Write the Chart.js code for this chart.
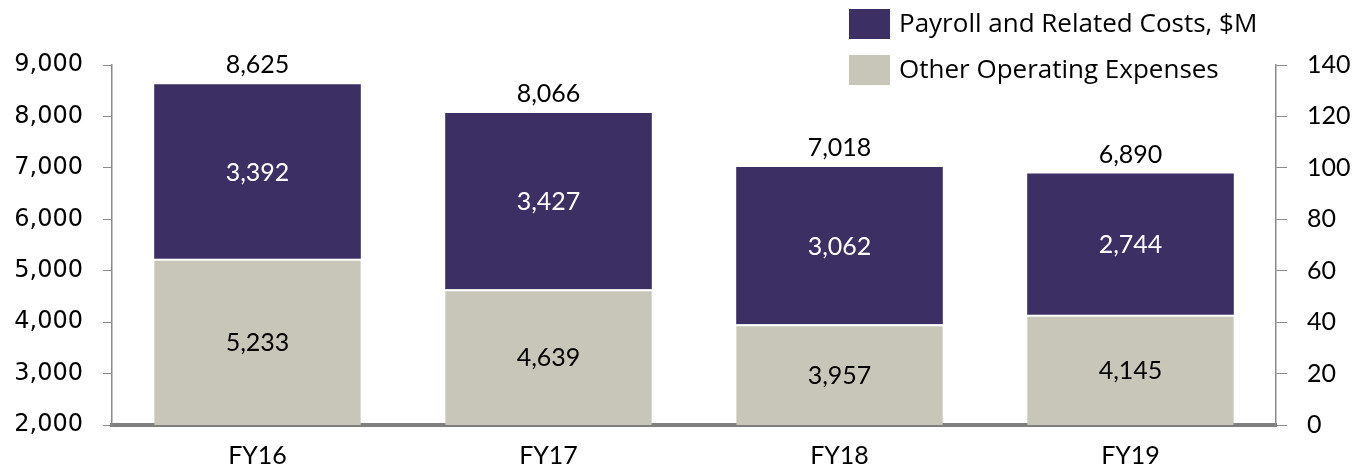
<!DOCTYPE html>
<html>
<head>
<meta charset="utf-8">
<script src="https://cdn.jsdelivr.net/npm/chart.js@4"></script>
<style>
  html, body { margin: 0; padding: 0; background: #fff; }
  canvas { display: block; }
</style>
</head>
<body>
<canvas id="myChart" width="1357" height="467"></canvas>
<script>
// values
const categories = ["FY16", "FY17", "FY18", "FY19"];
const otherExpenses = [5233, 4639, 3957, 4145];
const payrollCosts = [3392, 3427, 3062, 2744];
const totals = [8625, 8066, 7018, 6890];
const leftTicks = [2000, 3000, 4000, 5000, 6000, 7000, 8000, 9000];
const rightTicks = [0, 20, 40, 60, 80, 100, 120, 140];

const purple = "#3b2f63";
const grey = "#c8c6b9";
const axisGrey = "#8a8a8a";
const labelFont = "Lato, 'Open Sans', sans-serif";

const fmt = (v) => v.toLocaleString("en-US");

const valueLabels = {
    id: "value_labels",
    afterDatasetsDraw: (chart) => {
        const ctx = chart.ctx;
        const area = chart.chartArea;
        ctx.save();
        ctx.font = "25px " + labelFont;
        ctx.textAlign = "center";
        ctx.textBaseline = "middle";
        chart.data.datasets.forEach((ds, di) => {
            const meta = chart.getDatasetMeta(di);
            meta.data.forEach((bar, i) => {
                const top = Math.max(Math.min(bar.y, bar.base), area.top);
                const bottom = Math.min(Math.max(bar.y, bar.base), area.bottom);
                ctx.fillStyle = di === 1 ? "#ffffff" : "#000000";
                ctx.fillText(fmt(ds.data[i]), bar.x, (top + bottom) / 2 + 1);
            });
        });
        // totals above the stacks
        const topMeta = chart.getDatasetMeta(1);
        ctx.fillStyle = "#000000";
        topMeta.data.forEach((bar, i) => {
            ctx.fillText(fmt(totals[i]), bar.x, bar.y - 19);
        });
        ctx.restore();
    }
};

const boxLegend = {
    id: "box_legend",
    afterDraw: (chart) => {
        const ctx = chart.ctx;
        ctx.save();
        ctx.font = "26px 'Open Sans', Lato, sans-serif";
        ctx.textAlign = "left";
        ctx.textBaseline = "middle";
        const order = [1, 0];
        order.forEach((di, row) => {
            const ds = chart.data.datasets[di];
            const y = 9 + row * 46;
            ctx.fillStyle = ds.backgroundColor;
            ctx.fillRect(849, y, 41, 30);
            ctx.fillStyle = "#000000";
            ctx.fillText(ds.label, 899, y + 16);
        });
        ctx.restore();
    }
};

const bg = {
    id: "custom_canvas_background_color",
    beforeDraw: (chart) => {
        const ctx = chart.canvas.getContext("2d");
        ctx.save();
        ctx.globalCompositeOperation = "destination-over";
        ctx.fillStyle = "white";
        ctx.fillRect(0, 0, chart.width, chart.height);
        ctx.restore();
    }
};

const ctx = document.getElementById("myChart").getContext("2d");

new Chart(ctx, {
    type: "bar",
    plugins: [bg, valueLabels, boxLegend],
    data: {
        labels: categories,
        datasets: [{
            label: "Other Operating Expenses",
            data: otherExpenses,
            backgroundColor: grey,
            borderColor: "#ffffff",
            borderWidth: { top: 2, right: 0, bottom: 0, left: 0 },
            borderSkipped: false,
            categoryPercentage: 0.71,
            barPercentage: 1.0,
            yAxisID: "y"
        }, {
            label: "Payroll and Related Costs, $M",
            data: payrollCosts,
            backgroundColor: purple,
            borderWidth: 0,
            categoryPercentage: 0.71,
            barPercentage: 1.0,
            yAxisID: "y"
        }]
    },
    options: {
        responsive: false,
        animation: false,
        layout: { padding: { top: 65, left: 0, right: 0, bottom: 0 } },
        plugins: {
            legend: { display: false },
            tooltip: { enabled: false }
        },
        scales: {
            x: {
                stacked: true,
                grid: { display: false },
                border: { display: true, color: "#7f7f7f", width: 4 },
                ticks: {
                    color: "#000",
                    font: { family: labelFont, size: 25 },
                    padding: 8
                },
                afterFit: (s) => { s.height = 42; }
            },
            y: {
                position: "left",
                stacked: true,
                min: 2000,
                max: 9000,
                afterBuildTicks: (s) => { s.ticks = leftTicks.map(v => ({ value: v })); },
                grid: {
                    drawOnChartArea: false,
                    drawTicks: true,
                    tickLength: 9,
                    color: axisGrey
                },
                border: { display: true, color: axisGrey, width: 1.5 },
                ticks: {
                    color: "#000",
                    font: { family: "'DejaVu Sans', Verdana, sans-serif", size: 24 },
                    padding: 20,
                    callback: (v) => fmt(v)
                },
                afterFit: (s) => { s.width = 112; }
            },
            y2: {
                position: "right",
                min: 0,
                max: 140,
                afterBuildTicks: (s) => { s.ticks = rightTicks.map(v => ({ value: v })); },
                grid: {
                    drawOnChartArea: false,
                    drawTicks: true,
                    tickLength: 11,
                    color: axisGrey
                },
                border: { display: true, color: axisGrey, width: 1.5 },
                ticks: {
                    color: "#000",
                    font: { family: labelFont, size: 25 },
                    padding: 20
                },
                afterFit: (s) => { s.width = 81; }
            }
        }
    }
});
</script>
</body>
</html>
